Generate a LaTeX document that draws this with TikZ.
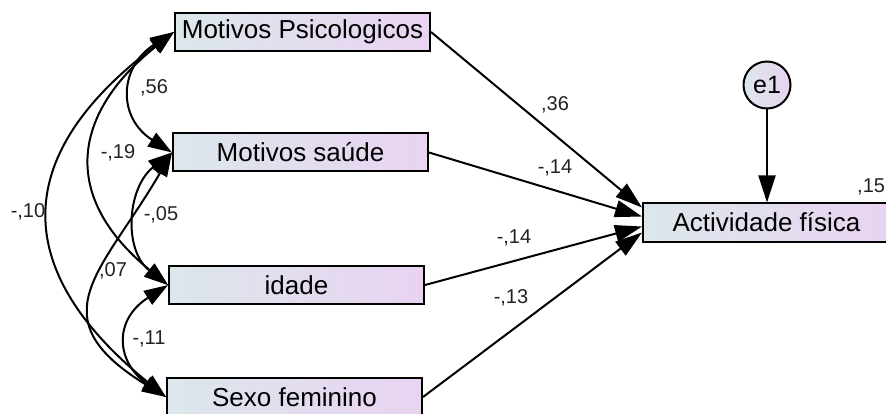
\documentclass[tikz,border=0pt]{standalone}
\usepackage{fontspec}
\setmainfont{Liberation Sans}
\usetikzlibrary{arrows.meta}
\definecolor{boxL}{HTML}{DCE7EB}
\definecolor{boxR}{HTML}{E9D3F1}
\definecolor{lbl}{HTML}{222222}
\begin{document}
\begin{tikzpicture}[x=1pt,y=-1pt,
  var/.style={draw=black, line width=2pt, left color=boxL, right color=boxR,
    minimum width=255pt, minimum height=38pt, inner sep=0pt,
    font=\fontsize{26}{28}\selectfont, text=black},
  err/.style={circle, draw=black, line width=2pt, left color=boxL, right color=boxR,
    minimum size=47pt, inner sep=0pt, font=\fontsize{25}{28}\selectfont},
  coef/.style={font=\fontsize{20}{22}\selectfont, text=lbl, inner sep=0pt},
  regarrow/.style={line width=2pt, -{Triangle[length=27pt,width=17pt]}},
  cov/.style={line width=2pt, {Triangle[length=24pt,width=16pt]}-{Triangle[length=24pt,width=16pt]}}]
\useasboundingbox (0,0) rectangle (886,414);
\clip (0,0) rectangle (886,414);

% variables
\node[var] (MP) at (302.5,32) {Motivos Psicologicos};
\node[var] (MS) at (300.5,152.5) {Motivos saúde};
\node[var] (ID) at (296.5,285) {idade};
\node[var] (SF) at (294.5,397) {Sexo feminino};
\node[var, minimum width=247pt] (AF) at (766.5,222.5) {Actividade física};
\node[err] (e1) at (767,85) {e1};

% regression paths
\draw[regarrow] (MP.east) -- ([yshift=15pt]AF.west);
\draw[regarrow] (MS.east) -- ([yshift=6pt]AF.west);
\draw[regarrow] (ID.east) -- ([yshift=-4pt]AF.west);
\draw[regarrow] (SF.east) -- ([yshift=-10pt]AF.west);
\draw[regarrow] (e1.south) -- (e1.south |- AF.north);

% covariances
\draw[cov] (MP.west) .. controls +(-55,35) and +(-55,-35) .. (MS.west);
\draw[cov] (MP.west) .. controls +(-100,80) and +(-110,-90) .. (ID.west);
\draw[cov] (MP.west) .. controls +(-160,120) and +(-160,-130) .. (SF.west);
\draw[cov] (MS.west) .. controls +(-45,35) and +(-45,-35) .. (ID.west);
\draw[cov] (MS.west) .. controls +(-70,120) and +(-130,-80) .. (SF.west);
\draw[cov] (ID.west) .. controls +(-55,35) and +(-50,-35) .. (SF.west);

% coefficients
\node[coef] (c56) at (154,88) {,56};
\node[coef] (c19) at (118,153) {-,19};
\node[coef] (c10) at (28,212) {-,10};
\node[coef] (c05) at (161,215) {-,05};
\node[coef] (c07) at (113,271) {,07};
\node[coef] (c11) at (149,339) {-,11};
\node[coef] (c36) at (555,105) {,36};
\node[coef] (c14a) at (555,168) {-,14};
\node[coef] (c14b) at (514,238) {-,14};
\node[coef] (c13) at (511,298) {-,13};
\node[coef, anchor=west] (c15) at (857,187) {,15};
\end{tikzpicture}
\end{document}
